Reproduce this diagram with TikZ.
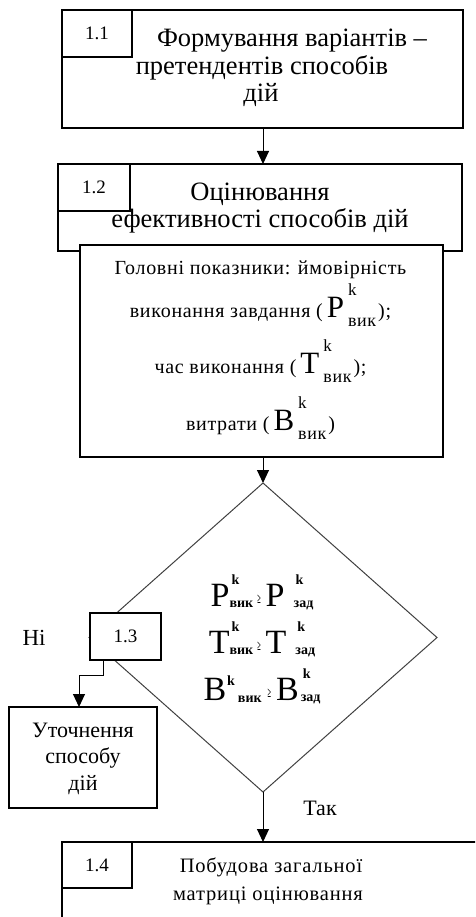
\documentclass[tikz,border=0pt]{standalone}
\usepackage{fontspec}
\usepackage{graphicx}
\setmainfont{Liberation Serif}
\usetikzlibrary{shapes.geometric,arrows.meta}

% size helpers
\newcommand\fs[1]{\fontsize{#1}{#1}\selectfont}
\newcommand\spaced[1]{\addfontfeature{LetterSpace=#1}}
% large letter with stacked index: #1 letter, #2 sup, #3 sub
\newcommand\bigidx[3]{\kern4pt{\fs{31}#1}\kern4pt\rlap{\raisebox{22pt}{\fs{17}#2}}\raisebox{-9pt}{\fs{18}#3}\kern2pt}
% letter with tiny indices for the condition block: #4 extra gap after letter
\newcommand\cidx[4]{{\fs{34}#1}\kern#4\rlap{\kern2pt\raisebox{22pt}{\fs{14}\bfseries#2}}\raisebox{-1pt}{\fs{14}\bfseries#3}}
\newcommand\narrowgeq{\kern4pt\raisebox{3pt}{\scalebox{0.45}[1]{\fs{14}\bfseries ≥}}\kern5pt}

\begin{document}
\begin{tikzpicture}[x=1pt,y=-1pt,
  box/.style={draw, line width=1.3pt, fill=white, inner sep=0pt, outer sep=0pt},
  lab/.style={box, font=\fs{19}},
  ln/.style={inner sep=0pt, anchor=base},
  arr/.style={line width=1pt, -{Triangle[width=12pt,length=13pt]}},
  cond/.style={draw=black!75, line width=1pt, shape=diamond, inner sep=0pt, outer sep=0pt,
    minimum width=348pt, minimum height=309pt}]
\useasboundingbox (0,0) rectangle (475,917);
\clip (0,0) rectangle (475,917);

% 1.1
\node[box, minimum width=401pt, minimum height=118pt] (b11) at (262.5,69) {};
\node[lab, minimum width=70pt, minimum height=47pt, anchor=north west] (l11) at (b11.north west) {1.1};
\begin{scope}[every node/.style={ln, font=\fs{26.5}}]
\node (t11a) at (292,47) {Формування варіантів –};
\node (t11b) at (262,75) {претендентів способів};
\node (t11c) at (261,102) {дій};
\end{scope}

% 1.2
\node[box, minimum width=404pt, minimum height=87pt] (b12) at (260,207.5) {};
\node[lab, minimum width=72pt, minimum height=47pt, anchor=north west] (l12) at (b12.north west) {1.2};
\begin{scope}[every node/.style={ln, font=\fs{26.5}}]
\node (t12a) at (260,201) {Оцінювання};
\node (t12b) at (260,228) {ефективності способів дій};
\end{scope}

% indicators
\node[box, minimum width=363pt, minimum height=212pt] (ind) at (261.5,351) {};
\begin{scope}[every node/.style={ln, font=\fs{20}\spaced{3.5}}]
\node (i1) at (260.5,274) {Головні показники: ймовірність};
\node (i2) at (260.5,317) {виконання завдання (\bigidx{P}{k}{вик});};
\node (i3) at (260.5,373) {час виконання (\bigidx{T}{k}{вик});};
\node (i4) at (260.5,430) {витрати (\bigidx{B}{k}{вик})};
\end{scope}

% condition 1.3
\node[cond] (d13) at (263,637.5) {};
\begin{scope}[every node/.style={ln}]
\node (c1) at (262,606) {\cidx{P}{k}{вик}{0pt}\narrowgeq\cidx{P}{k}{зад}{9pt}};
\node (c2) at (262,653) {\cidx{T}{k}{вик}{0pt}\narrowgeq\cidx{T}{k}{зад}{9pt}};
\node (c3) at (262,700) {{\fs{34}B}\kern1pt\raisebox{15pt}{\fs{14}\bfseries k}\kern3pt\raisebox{-2pt}{\fs{14}\bfseries вик}\kern2pt\narrowgeq\cidx{B}{k}{зад}{2pt}};
\end{scope}
\node[lab, minimum width=71pt, minimum height=47pt] (l13) at (125.5,636.5) {1.3};
\node[ln, font=\fs{23}] (no) at (34,645) {Ні};

% refinement
\node[box, minimum width=148pt, minimum height=101pt] (ut) at (83,757.5) {};
\begin{scope}[every node/.style={ln, font=\fs{22}}]
\node (u1) at (83,737) {Уточнення};
\node (u2) at (83,763) {способу};
\node (u3) at (83,790) {дій};
\end{scope}

% 1.4
\node[box, minimum width=430pt, minimum height=110pt] (b14) at (277,897) {};
\node[lab, minimum width=70pt, minimum height=46pt, anchor=north west] (l14) at (b14.north west) {1.4};
\begin{scope}[every node/.style={ln, font=\fs{20.5}\spaced{4}}]
\node (t14a) at (271,872) {Побудова загальної};
\node (t14b) at (268,900) {матриці оцінювання};
\end{scope}
\node[ln, font=\fs{22}] (yes) at (320,815) {Так};

% connectors
\draw[arr] (263,0 |- b11.south) -- (263,0 |- b12.north);
\draw[arr] (263,0 |- ind.south) -- (d13.north);
\draw[arr] (d13.south) -- (d13.south |- b14.north);
\draw[arr] ([xshift=-22.5pt]l13.south) -- ++(0,15) -| ([xshift=-4pt]ut.north);
\end{tikzpicture}
\end{document}
